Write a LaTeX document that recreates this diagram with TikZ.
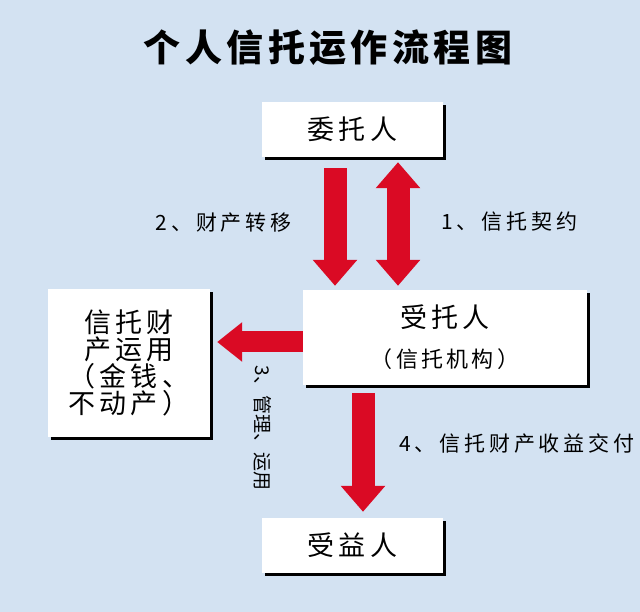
\documentclass[tikz,border=0pt]{standalone}
\usepackage{fontspec}
\newfontfamily\titlefont[LetterSpace=12]{Noto Sans CJK SC}
\newfontfamily\boxfont[LetterSpace=15]{Noto Sans CJK SC}
\newfontfamily\labelfont[LetterSpace=18]{Noto Sans CJK SC}
\newfontfamily\vertfont{Noto Sans CJK SC}
\usetikzlibrary{arrows.meta,positioning,shadows}
\definecolor{bgblue}{RGB}{211,226,242}
\definecolor{arrowred}{RGB}{218,10,36}

\begin{document}
\begin{tikzpicture}[x=1pt,y=-1pt,
    box/.style={fill=white, inner sep=0pt, align=center,
      font=\boxfont\fontsize{27}{27}\selectfont,
      drop shadow={shadow xshift=3pt, shadow yshift=-3pt, fill=black, opacity=1}},
    bigarrow/.style={draw=arrowred, line width=23pt, -{Triangle[width=43pt,length=26pt]}},
    steplabel/.style={font=\labelfont\fontsize{21}{24}\selectfont, inner sep=0pt}]
    % Background
    \fill[bgblue] (0,0) rectangle (640,612);
    \node[font=\titlefont\bfseries\fontsize{37}{40}\selectfont] (title) at (328,48) {个人信托运作流程图};

    % Boxes for the parties
    \node[box, minimum width=181pt, minimum height=55pt] (weituo) at (352.5,129.5) {委托人};
    \node[box, minimum width=284pt, minimum height=95pt] (shoutuo) at (445,337.5)
        {受托人\\[13pt]{\fontsize{22}{22}\selectfont （信托机构）}};
    \node[box, minimum width=162pt, minimum height=147pt] (caichan) at (129,363)
        {信托财\\产运用\\（金钱、\\不动产）};
    \node[box, minimum width=181pt, minimum height=55pt] (shouyi) at (352.5,545.5) {受益人};

    % Arrows between them
    \draw[bigarrow] ([xshift=-17.5pt,yshift=-11pt]weituo.south)
        -- node[steplabel, pos=0.46, left=32pt] (l2) {2、财产转移}
        ([xshift=-17.5pt,yshift=4pt]weituo.south |- shoutuo.north);
    \draw[bigarrow, {Triangle[width=43pt,length=26pt]}-{Triangle[width=43pt,length=26pt]}]
        ([xshift=45.5pt,yshift=-5pt]weituo.south)
        -- node[steplabel, pos=0.48, right=32pt] (l1) {1、信托契约}
        ([xshift=45.5pt,yshift=4pt]weituo.south |- shoutuo.north);
    \draw[bigarrow, line width=21pt, -{Triangle[width=38pt,length=25pt]}]
        ([yshift=-4.5pt]shoutuo.west) -- ([xshift=7pt,yshift=-4.5pt]caichan.east |- shoutuo.west);
    \node[steplabel, font=\vertfont\fontsize{19}{20}\selectfont, rotate=-90] (l3) at (263,428) {3、管理、运用};
    \draw[bigarrow] ([xshift=10.5pt,yshift=-8pt]shouyi.north |- shoutuo.south)
        -- node[steplabel, pos=0.42, right=25pt] (l4) {4、信托财产收益交付}
        ([xshift=10.5pt,yshift=6pt]shouyi.north);
\end{tikzpicture}
\end{document}
